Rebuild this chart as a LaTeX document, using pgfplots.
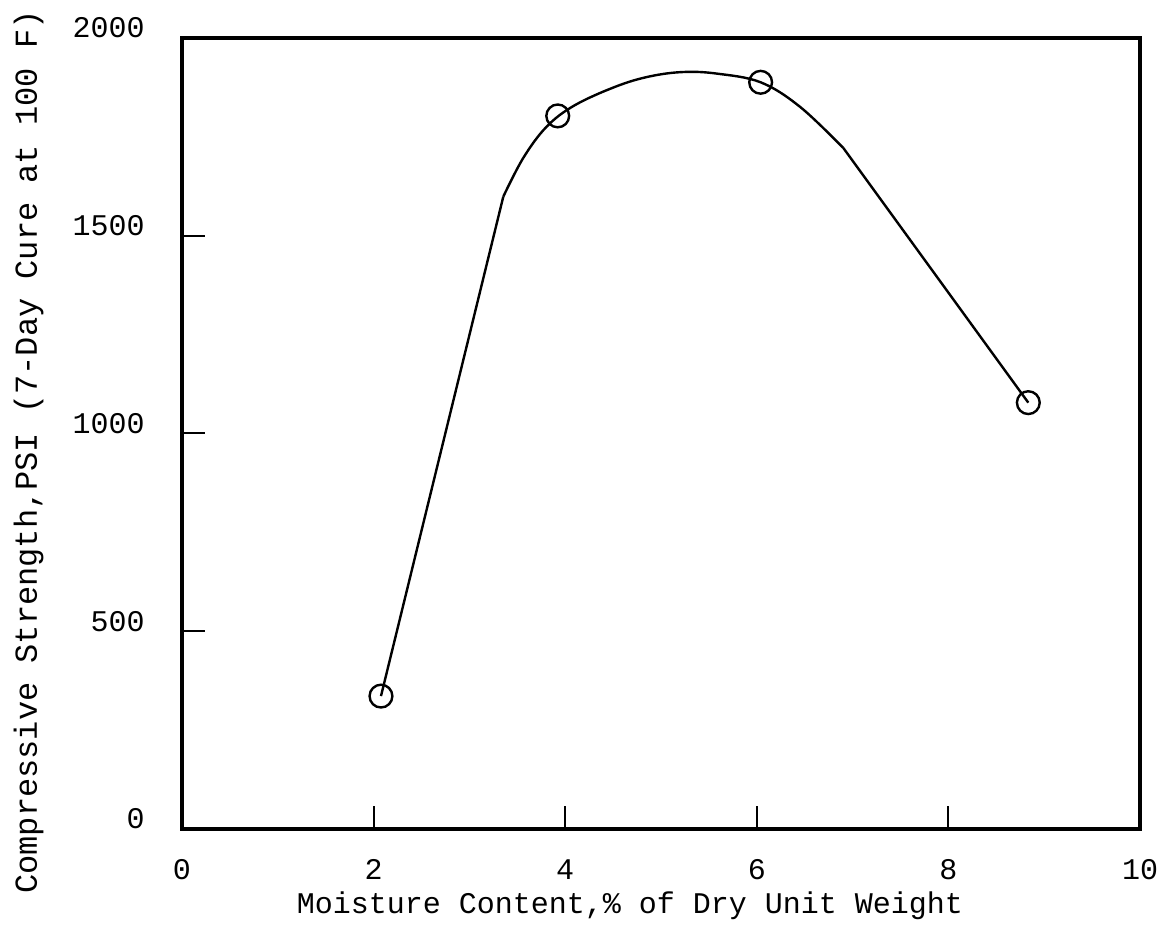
\documentclass[border=0pt]{standalone}
\usepackage{fontspec}
\setmainfont{Liberation Mono}
\usepackage{pgfplots}
\pgfplotsset{compat=1.18}
\begin{document}
\begin{tikzpicture}
\begin{axis}[
  scale only axis, width=479pt, height=395.5pt,
  xmin=0, xmax=10, ymin=0, ymax=2000,
  axis line style={line width=2.4pt, line cap=rect},
  xtick={0,2,4,6,8,10}, ytick={0,500,1000,1500,2000},
  tick align=inside, xtick pos=bottom, ytick pos=left,
  major tick length=11.5pt,
  every tick/.style={black, line width=1pt},
  /pgf/number format/assume math mode=true,
  /pgf/number format/1000 sep={},
  tick label style={font=\fontsize{15}{18}\selectfont, inner sep=0pt},
  xticklabel style={anchor=north, yshift=-15pt},
  yticklabel style={anchor=east, xshift=-18.5pt, yshift=5pt},
  every axis x label/.style={at={(axis description cs:0.4676,-0.107)}, anchor=base, font=\fontsize{15}{18}\selectfont},
  every axis y label/.style={at={(axis description cs:-0.1514,0.4766)}, rotate=90, anchor=base, font=\fontsize{16}{19}\selectfont},
  xlabel={Moisture Content,\% of Dry Unit Weight},
  ylabel={Compressive Strength,PSI (7-Day Cure at 100 F)},
  clip=false,
]
\coordinate (bl) at (rel axis cs:0,0);
\coordinate (tr) at (rel axis cs:1,1);
% straight rising segment
\addplot[black, line width=1.2pt] coordinates {(2.077,336) (3.354,1599)};
% curved top
\addplot[black, line width=1.2pt, smooth, tension=0.6] coordinates {
  (3.354,1599) (3.563,1697) (3.807,1776) (4.10,1830) (4.537,1878)
  (4.885,1903) (5.233,1914) (5.581,1910) (6.04,1888) (6.451,1826) (6.903,1722)};
% straight falling segment
\addplot[black, line width=1.2pt] coordinates {(6.903,1722) (8.834,1078)};
% data points
\addplot[only marks, mark=o, mark size=5.7pt, mark options={line width=1.2pt, fill=white, draw=black}]
  coordinates {(2.077,336) (3.922,1803) (6.04,1888) (8.834,1078)};
\end{axis}
\pgfresetboundingbox
\path[use as bounding box] ([shift={(-91pt,-48.5pt)}]bl) rectangle ([shift={(12.5pt,19pt)}]tr);
\end{tikzpicture}
\end{document}
